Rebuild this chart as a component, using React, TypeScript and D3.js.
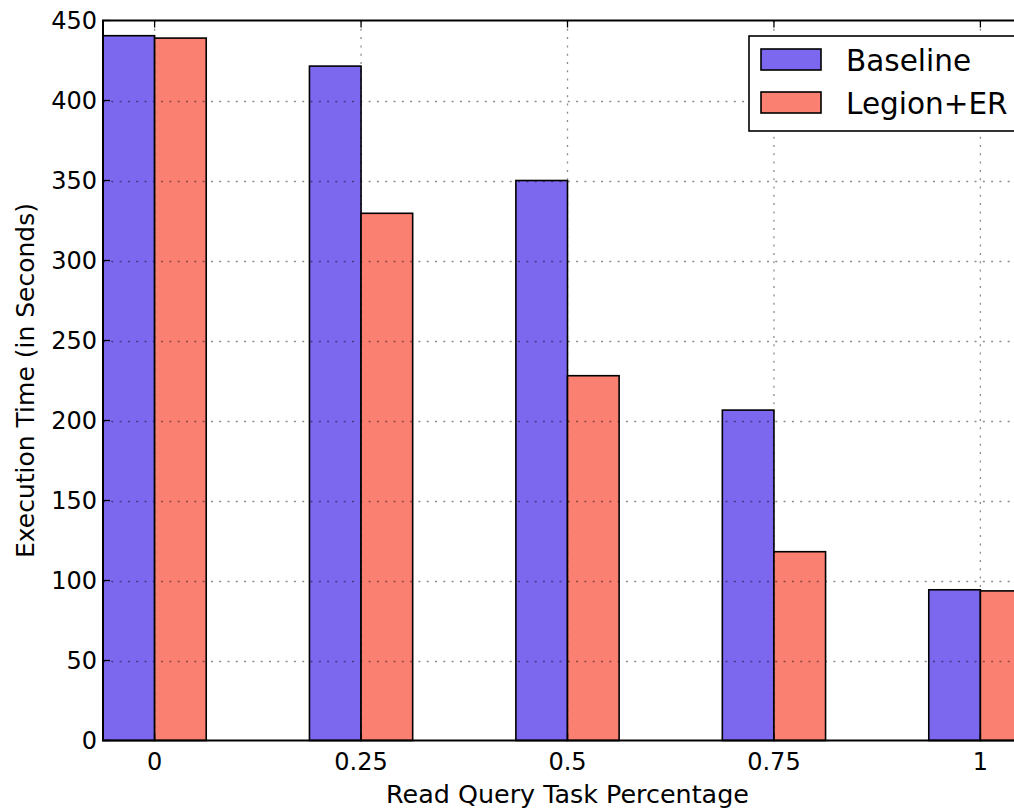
import React, { useEffect, useRef } from 'react';
import * as d3 from 'd3';

const categories = [0, 0.25, 0.5, 0.75, 1];
const tickLabels = ['0', '0.25', '0.5', '0.75', '1'];
const baseline = [440.5, 421.5, 350, 206.5, 94.2];
const legionER = [439, 329.5, 228, 118, 93.5];
const seriesNames = ['Baseline', 'Legion+ER'];
const yTicks = [0, 50, 100, 150, 200, 250, 300, 350, 400, 450];

export default function App() {
    const svgRef = useRef<SVGSVGElement | null>(null);

    const width = 1014;
    const height = 808;
    const left = 103, top = 20.5, right = 1032, bottom = 740.5;
    const barW = 0.0625;
    const colors = ['#7B68EE', '#FA8072'];
    const font = 'DejaVu Sans, sans-serif';

    useEffect(() => {
        const svg = d3.select(svgRef.current);
        svg.selectAll('*').remove();

        const x = d3.scaleLinear().domain([-0.0625, 1.0625]).range([left, right]);
        const y = d3.scaleLinear().domain([0, 450]).range([bottom, top]);

        const series = [baseline, legionER];

        // bars
        series.forEach((vals, s) => {
            svg.append('g')
                .selectAll('rect')
                .data(vals)
                .enter()
                .append('rect')
                .attr('x', (d, i) => x(categories[i] + (s - 1) * barW))
                .attr('y', d => y(d))
                .attr('width', x(barW) - x(0))
                .attr('height', d => y(0) - y(d))
                .attr('fill', colors[s])
                .attr('stroke', '#000')
                .attr('stroke-width', 1.6);
        });

        // grid (drawn above bars)
        const grid = svg.append('g')
            .attr('stroke', '#000')
            .attr('stroke-opacity', 0.45)
            .attr('stroke-width', 1.3)
            .attr('stroke-dasharray', '2,6.3');
        grid.selectAll('.gy')
            .data(yTicks.slice(1, -1))
            .enter()
            .append('line')
            .attr('x1', left).attr('x2', right)
            .attr('y1', d => Math.round(y(d)) + 0.5)
            .attr('y2', d => Math.round(y(d)) + 0.5);
        grid.selectAll('.gx')
            .data(categories)
            .enter()
            .append('line')
            .attr('x1', d => x(d)).attr('x2', d => x(d))
            .attr('y1', top).attr('y2', bottom);

        // ticks, inward on all sides
        const ticks = svg.append('g').attr('stroke', '#000').attr('stroke-width', 1.3);
        yTicks.forEach(t => {
            ticks.append('line').attr('x1', left).attr('x2', left + 7).attr('y1', y(t)).attr('y2', y(t));
            ticks.append('line').attr('x1', right).attr('x2', right - 7).attr('y1', y(t)).attr('y2', y(t));
        });
        categories.forEach(c => {
            ticks.append('line').attr('x1', x(c)).attr('x2', x(c)).attr('y1', bottom).attr('y2', bottom - 7);
            ticks.append('line').attr('x1', x(c)).attr('x2', x(c)).attr('y1', top).attr('y2', top + 7);
        });

        // axes frame
        svg.append('rect')
            .attr('x', left).attr('y', top)
            .attr('width', right - left).attr('height', bottom - top)
            .attr('fill', 'none').attr('stroke', '#000').attr('stroke-width', 2);

        // tick labels
        svg.append('g')
            .selectAll('text')
            .data(yTicks)
            .enter()
            .append('text')
            .attr('x', left - 6)
            .attr('y', d => y(d))
            .attr('dy', '0.36em')
            .attr('text-anchor', 'end')
            .style('font-family', font)
            .style('font-size', '24px')
            .text(d => d);

        svg.append('g')
            .selectAll('text')
            .data(categories)
            .enter()
            .append('text')
            .attr('x', d => x(d))
            .attr('y', bottom + 29)
            .attr('text-anchor', 'middle')
            .style('font-family', font)
            .style('font-size', '24px')
            .text((d, i) => tickLabels[i]);

        // axis labels
        svg.append('text')
            .attr('x', (left + right) / 2)
            .attr('y', 803)
            .attr('text-anchor', 'middle')
            .style('font-family', font)
            .style('font-size', '25.4px')
            .text('Read Query Task Percentage');

        svg.append('text')
            .attr('transform', `translate(34, ${(top + bottom) / 2}) rotate(-90)`)
            .attr('text-anchor', 'middle')
            .style('font-family', font)
            .style('font-size', '25px')
            .text('Execution Time (in Seconds)');

        // legend
        const lg = svg.append('g');
        lg.append('rect')
            .attr('x', 749).attr('y', 36)
            .attr('width', 268).attr('height', 95)
            .attr('fill', '#fff').attr('stroke', '#000').attr('stroke-width', 1.6);
        seriesNames.forEach((name, i) => {
            lg.append('rect')
                .attr('x', 761).attr('y', 49 + i * 43)
                .attr('width', 60).attr('height', 21)
                .attr('fill', colors[i]).attr('stroke', '#000').attr('stroke-width', 1.6);
            lg.append('text')
                .attr('x', 846).attr('y', 60 + i * 43)
                .attr('dy', '0.36em')
                .style('font-family', font)
                .style('font-size', '29.5px')
                .text(name);
        });
    }, []);

    return (
        <svg ref={svgRef} width={width} height={height}
            style={{ position: 'absolute', left: 0, top: 0, background: '#fff' }} />
    );
}
